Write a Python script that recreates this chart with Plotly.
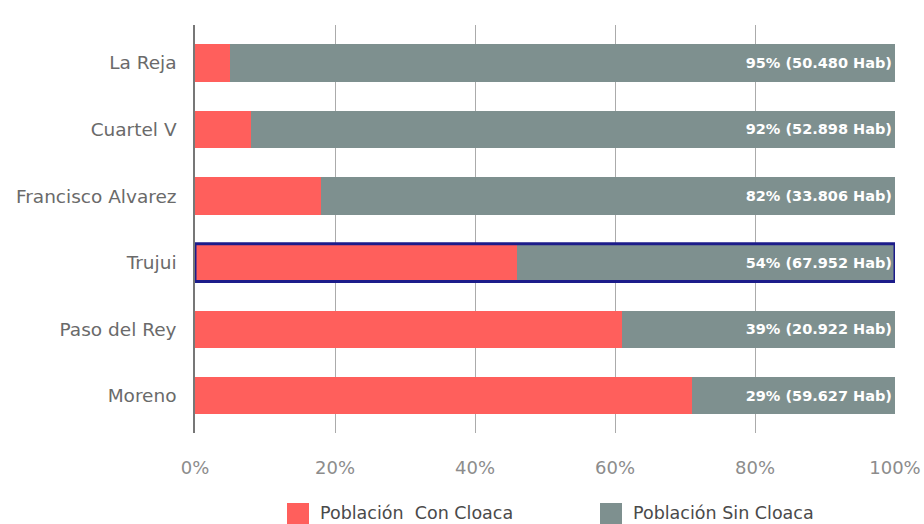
import plotly.graph_objects as go

# Localities, top to bottom
localidades = ["La Reja", "Cuartel V", "Francisco Alvarez", "Trujui", "Paso del Rey", "Moreno"]
# Share of population with / without sewer access (%)
con_cloaca = [5, 8, 18, 46, 61, 71]
sin_cloaca = [95, 92, 82, 54, 39, 29]
# Inhabitants without sewer access
hab_sin = ["50.480", "52.898", "33.806", "67.952", "20.922", "59.627"]
x_ticks = [0, 20, 40, 60, 80, 100]
x_tick_text = ["0%", "20%", "40%", "60%", "80%", "100%"]
series_names = ["Población  Con Cloaca", "Población Sin Cloaca"]
destacada = "Trujui"

RED = "#FF5F5C"
GREY = "#7E908F"
FONT = "DejaVu Sans, sans-serif"

W, H = 924, 524
ML, MR, MT, MB = 195, 29, 25, 91

etiquetas = [f"{p}% ({h} Hab)" for p, h in zip(sin_cloaca, hab_sin)]

fig = go.Figure()
fig.add_trace(go.Bar(
    y=localidades, x=con_cloaca, orientation="h", name=series_names[0],
    marker=dict(color=RED, line=dict(width=0)), width=0.56,
))
fig.add_trace(go.Bar(
    y=localidades, x=sin_cloaca, orientation="h", name=series_names[1],
    marker=dict(color=GREY, line=dict(width=0)), width=0.56,
    text=etiquetas, textposition="inside", insidetextanchor="end",
    textfont=dict(color="white", size=14.5, family=FONT, weight="bold"),
    constraintext="none",
))

# Highlight box around one locality
i = localidades.index(destacada)
fig.add_shape(
    type="rect", xref="x", yref="y",
    x0=0, x1=100, y0=i - 0.285, y1=i + 0.285,
    line=dict(color="#1C1C8A", width=3), fillcolor="rgba(0,0,0,0)",
)

# Legend drawn as coloured squares with labels below the axis
plot_w = W - ML - MR
plot_h = H - MT - MB


def px_x(p):
    return (p - ML) / plot_w


def px_y(p):
    return (H - MB - p) / plot_h


legend_items = [(series_names[0], RED, 287), (series_names[1], GREY, 600)]
for name, color, left in legend_items:
    fig.add_shape(
        type="rect", xref="paper", yref="paper",
        x0=px_x(left), x1=px_x(left + 22), y0=px_y(503), y1=px_y(525),
        line=dict(width=0), fillcolor=color,
    )
    fig.add_annotation(
        xref="paper", yref="paper", x=px_x(left + 31), y=px_y(513),
        xanchor="left", yanchor="middle", text=name, showarrow=False,
        font=dict(family=FONT, size=17.5, color="#4A4A4A"),
    )

fig.update_layout(
    barmode="stack",
    width=W, height=H,
    margin=dict(l=ML, r=MR, t=MT, b=MB, autoexpand=False),
    plot_bgcolor="white", paper_bgcolor="white",
    font=dict(family=FONT, color="#6E6E6E", size=18),
    showlegend=False,
)
fig.update_xaxes(
    range=[0, 100], tickvals=x_ticks, ticktext=x_tick_text,
    showgrid=True, gridcolor="#ABABAB", gridwidth=1,
    zeroline=False, showline=False, automargin=False,
    ticks="", ticklabelstandoff=22,
    tickfont=dict(size=18, color="#8C8C8C", family=FONT),
)
fig.update_yaxes(
    categoryorder="array", categoryarray=localidades,
    range=[5.56, -0.57], automargin=False,
    showline=True, linecolor="#777777", linewidth=1.5,
    showgrid=False, ticks="", ticklabelstandoff=13,
    tickfont=dict(size=18.5, color="#6A6A6A", family=FONT),
)

fig.write_html("out.html")
